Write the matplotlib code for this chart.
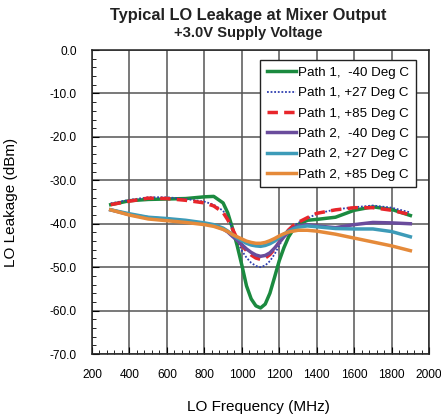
import matplotlib
matplotlib.use("Agg")
import matplotlib.pyplot as plt
from matplotlib.ticker import MultipleLocator

plt.rcParams['font.family'] = ['Liberation Sans', 'DejaVu Sans']

freq = [300, 400, 500, 600, 700, 800, 850, 900, 925, 950, 975, 1000, 1025, 1050, 1075, 1100,
        1125, 1150, 1175, 1200, 1225, 1250, 1275, 1300, 1350, 1400, 1500, 1600, 1700, 1800, 1900]

p1_m40 = [-35.6, -34.7, -34.4, -34.3, -34.2, -33.8, -33.7, -35.2, -37.5, -41.0, -45.0, -49.5, -54.3, -57.3, -58.9, -59.4,
          -58.5, -56.0, -52.3, -48.5, -45.5, -43.0, -41.3, -40.2, -39.2, -39.0, -38.5, -36.9, -36.1, -36.7, -38.1]
p1_p27 = [-35.3, -34.5, -33.9, -33.9, -34.3, -34.9, -35.6, -37.0, -38.7, -41.0, -43.8, -46.2, -47.8, -49.0, -49.7, -50.0,
          -49.6, -48.6, -47.0, -45.0, -43.0, -41.6, -40.6, -39.8, -38.8, -37.7, -36.7, -36.2, -35.8, -36.3, -37.4]
p1_p85 = [-35.6, -34.8, -34.1, -34.2, -34.6, -35.2, -35.9, -37.4, -39.1, -41.2, -43.4, -45.0, -46.2, -47.2, -47.9, -48.2,
          -47.9, -47.1, -45.8, -44.2, -42.7, -41.4, -40.4, -39.7, -38.6, -37.6, -36.8, -36.3, -36.3, -36.9, -37.9]
p2_m40 = [-36.8, -37.9, -38.6, -39.0, -39.4, -40.0, -40.4, -41.2, -41.9, -42.9, -43.8, -44.8, -45.8, -46.6, -47.2, -47.5,
          -47.3, -46.7, -45.6, -44.3, -43.0, -41.9, -41.0, -40.5, -40.2, -40.5, -40.9, -40.2, -39.7, -39.8, -40.0]
p2_p27 = [-36.8, -37.7, -38.5, -38.8, -39.2, -39.8, -40.2, -41.0, -41.7, -42.5, -43.3, -43.9, -44.5, -44.9, -45.1, -45.2,
          -45.0, -44.6, -44.0, -43.2, -42.4, -41.7, -41.2, -40.8, -40.5, -40.7, -41.1, -41.2, -41.2, -41.8, -43.0]
p2_p85 = [-36.8, -38.0, -38.9, -39.3, -39.7, -40.2, -40.6, -41.3, -41.8, -42.5, -43.0, -43.5, -44.0, -44.3, -44.5, -44.5,
          -44.3, -43.9, -43.4, -42.8, -42.3, -41.9, -41.7, -41.5, -41.5, -41.7, -42.4, -43.3, -44.2, -45.1, -46.2]

labels = ['Path 1,  -40 Deg C', 'Path 1, +27 Deg C', 'Path 1, +85 Deg C',
          'Path 2,  -40 Deg C', 'Path 2, +27 Deg C', 'Path 2, +85 Deg C']

fig = plt.figure(figsize=(4.41, 4.17), dpi=100)
ax = fig.add_axes([0.2086, 0.151, 0.7644, 0.729])

ax.plot(freq, p1_m40, color='#1b8a3f', lw=2.5, label=labels[0])
ax.plot(freq, p1_p27, color='#2f3fb0', lw=1.3, ls=(0, (1, 1)), label=labels[1])
ax.plot(freq, p1_p85, color='#e8262b', lw=2.5, ls=(0, (3, 1.8)), label=labels[2])
ax.plot(freq, p2_m40, color='#6a4c9c', lw=2.5, label=labels[3])
ax.plot(freq, p2_p27, color='#3d9bb8', lw=2.5, label=labels[4])
ax.plot(freq, p2_p85, color='#e58a3a', lw=2.5, label=labels[5])

ax.set_xlim(200, 2000)
ax.set_ylim(-70, 0)
ax.xaxis.set_major_locator(MultipleLocator(200))
ax.xaxis.set_minor_locator(MultipleLocator(40))
ax.yaxis.set_major_locator(MultipleLocator(10))
ax.yaxis.set_minor_locator(MultipleLocator(2))
ax.yaxis.set_major_formatter(lambda v, p: f"{v:.1f}")
ax.tick_params(which='both', direction='in', labelsize=8.6, top=False, right=False)
ax.tick_params(which='major', length=5, pad=11)
ax.tick_params(which='minor', length=3)
ax.grid(True, which='major', color='#555555', lw=1.1)
for s in ax.spines.values():
    s.set_color('#222222')
    s.set_linewidth(1.1)

fig.text(0.585, 0.024, "LO Frequency (MHz)", ha='center', va='center', fontsize=11)
fig.text(0.025, 0.515, "LO Leakage (dBm)", ha='center', va='center', rotation=90, fontsize=11)

fig.text(0.562, 0.962, "Typical LO Leakage at Mixer Output", ha='center', va='center',
         fontsize=11.8, fontweight='bold', color='#222222')
fig.text(0.562, 0.921, "+3.0V Supply Voltage", ha='center', va='center',
         fontsize=10.6, fontweight='bold', color='#222222')

leg = ax.legend(loc='upper right', bbox_to_anchor=(0.96, 0.967), fontsize=9.6, handlelength=2.2,
                handletextpad=0.15, labelspacing=0.6, fancybox=False, framealpha=1,
                edgecolor='#222222', borderpad=0.5, borderaxespad=0)
leg.get_frame().set_linewidth(1.0)

fig.savefig("out.png", dpi=100)
